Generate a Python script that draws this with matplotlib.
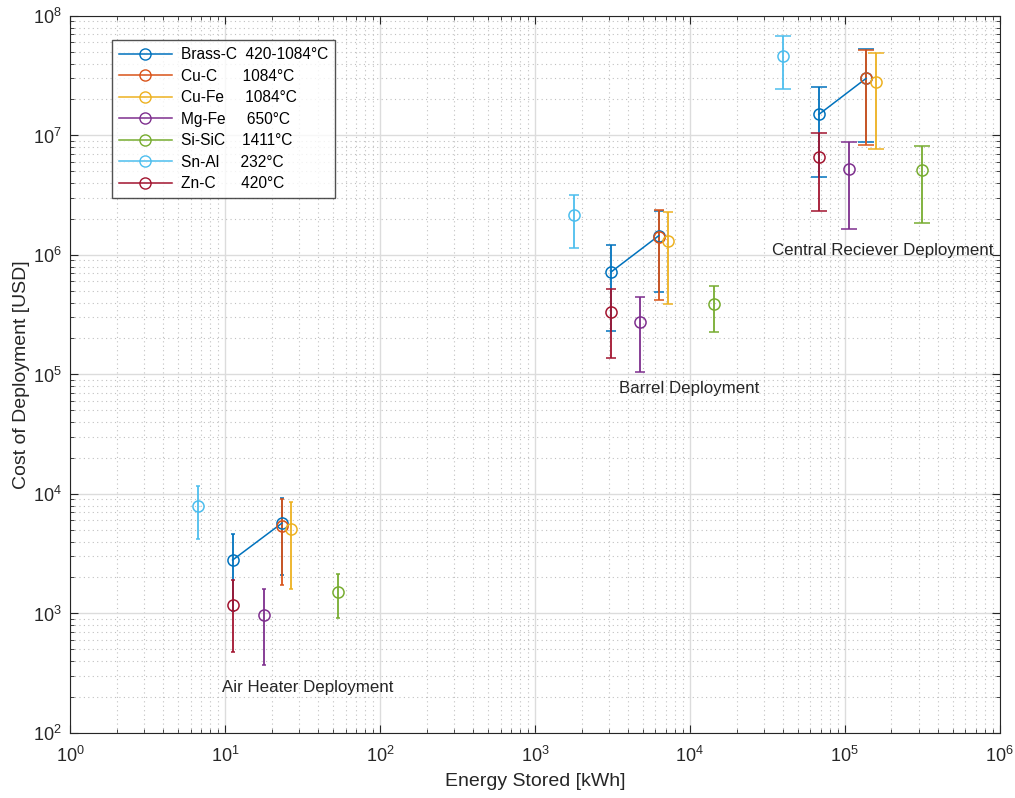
import numpy as np
import matplotlib
matplotlib.use('Agg')
import matplotlib.pyplot as plt
from matplotlib.lines import Line2D

plt.rcParams['font.family'] = ['Liberation Sans', 'DejaVu Sans']
plt.rcParams['mathtext.fontset'] = 'custom'
plt.rcParams['mathtext.rm'] = 'Liberation Sans'

# Series names / legend labels
materials = ['Brass-C', 'Cu-C', 'Cu-Fe', 'Mg-Fe', 'Si-SiC', 'Sn-Al', 'Zn-C']
legend_labels = ['Brass-C  420-1084°C', 'Cu-C      1084°C', 'Cu-Fe     1084°C',
                 'Mg-Fe     650°C', 'Si-SiC    1411°C', 'Sn-Al     232°C',
                 'Zn-C      420°C']
colors = ['#0072BD', '#D95319', '#EDB120', '#7E2F8E', '#77AC30', '#4DBEEE', '#A2142F']

# deployment groups: air heater, barrel, central receiver
groups = ['Air Heater Deployment', 'Barrel Deployment', 'Central Reciever Deployment']
group_text_x = [9.6, 3.5e3, 3.4e4]
group_text_y = [2.4e2, 7.6e4, 1.1e6]

# energy stored [kWh], cost [USD], lower/upper bound [USD]
# Brass-C has two points per group (connected by a line)
brass_grp = [0, 0, 1, 1, 2, 2]
brass_e = [11.2, 23.3, 3.1e3, 6.3e3, 6.8e4, 1.37e5]
brass_c = [2.8e3, 5.7e3, 7.2e5, 1.45e6, 1.5e7, 3.0e7]
brass_lo = [1.05e3, 2.1e3, 2.3e5, 4.9e5, 4.45e6, 8.9e6]
brass_hi = [4.6e3, 9.3e3, 1.2e6, 2.35e6, 2.55e7, 5.3e7]

cuc_e = [23.3, 6.3e3, 1.37e5]
cuc_c = [5.4e3, 1.4e6, 3.0e7]
cuc_lo = [1.73e3, 4.2e5, 8.3e6]
cuc_hi = [9.1e3, 2.4e6, 5.2e7]

cufe_e = [26.5, 7.2e3, 1.6e5]
cufe_c = [5.1e3, 1.32e6, 2.8e7]
cufe_lo = [1.6e3, 3.9e5, 7.7e6]
cufe_hi = [8.5e3, 2.3e6, 4.9e7]

mgfe_e = [17.9, 4.8e3, 1.06e5]
mgfe_c = [9.8e2, 2.75e5, 5.25e6]
mgfe_lo = [3.7e2, 1.05e5, 1.66e6]
mgfe_hi = [1.6e3, 4.45e5, 8.9e6]

sisic_e = [54.0, 1.43e4, 3.15e5]
sisic_c = [1.5e3, 3.9e5, 5.1e6]
sisic_lo = [9.1e2, 2.25e5, 1.85e6]
sisic_hi = [2.15e3, 5.5e5, 8.2e6]

snal_e = [6.7, 1.8e3, 4.0e4]
snal_c = [7.9e3, 2.14e6, 4.65e7]
snal_lo = [4.2e3, 1.14e6, 2.45e7]
snal_hi = [1.17e4, 3.2e6, 6.8e7]

znc_e = [11.2, 3.1e3, 6.8e4]
znc_c = [1.17e3, 3.3e5, 6.6e6]
znc_lo = [4.8e2, 1.38e5, 2.35e6]
znc_hi = [1.9e3, 5.2e5, 1.05e7]

series = [
    (brass_grp, brass_e, brass_c, brass_lo, brass_hi, '-o'),
    ([0, 1, 2], cuc_e, cuc_c, cuc_lo, cuc_hi, 'o'),
    ([0, 1, 2], cufe_e, cufe_c, cufe_lo, cufe_hi, 'o'),
    ([0, 1, 2], mgfe_e, mgfe_c, mgfe_lo, mgfe_hi, 'o'),
    ([0, 1, 2], sisic_e, sisic_c, sisic_lo, sisic_hi, 'o'),
    ([0, 1, 2], snal_e, snal_c, snal_lo, snal_hi, 'o'),
    ([0, 1, 2], znc_e, znc_c, znc_lo, znc_hi, 'o'),
]

capsizes = [1.2, 3.6, 5.5]

fig = plt.figure(figsize=(10.15, 7.98), dpi=100)
ax = fig.add_axes([0.069, 0.0815, 0.916, 0.8985])

for (grp, e, c, lo, hi, fmt), col in zip(series, colors):
    grp = np.array(grp)
    e = np.array(e); c = np.array(c); lo = np.array(lo); hi = np.array(hi)
    for g in range(3):
        m = grp == g
        ax.errorbar(e[m], c[m], yerr=[c[m] - lo[m], hi[m] - c[m]], fmt=fmt,
                    color=col, mfc='none', ms=8, mew=1.1, lw=1.1, elinewidth=1.3,
                    capsize=capsizes[g], capthick=1.3, zorder=3)

for name, tx, ty in zip(groups, group_text_x, group_text_y):
    ax.text(tx, ty, name, ha='left', va='center', fontsize=12.2, color='#262626')

ax.set_xscale('log')
ax.set_yscale('log')
ax.set_xlim(1, 1e6)
ax.set_ylim(1e2, 1e8)
ax.set_xticks([10.0 ** k for k in range(7)])
ax.set_yticks([10.0 ** k for k in range(2, 9)])

ax.grid(True, which='major', color='#dcdcdc', lw=1, ls='-')
ax.grid(True, which='minor', color='#c0c0c0', lw=0.8, ls=(0, (1, 3)))
ax.set_axisbelow(True)
ax.tick_params(which='both', direction='in', top=True, right=True, colors='#262626',
               labelsize=13)
ax.tick_params(axis='x', which='major', pad=9)
ax.tick_params(axis='y', which='major', pad=6)
ax.tick_params(which='major', length=6)
ax.tick_params(which='minor', length=3)
for s in ax.spines.values():
    s.set_color('#262626')

ax.set_xlabel('Energy Stored [kWh]', fontsize=14, color='#262626', labelpad=5)
ax.set_ylabel('Cost of Deployment [USD]', fontsize=14, color='#262626', labelpad=2)

handles = [Line2D([], [], color=col, marker='o', mfc='none', ms=8, lw=1.1) for col in colors]
leg = ax.legend(handles, legend_labels, loc='upper left', bbox_to_anchor=(0.045, 0.9665),
                borderaxespad=0, fontsize=11.2, frameon=True, fancybox=False,
                edgecolor='#262626', handlelength=3.4, handletextpad=0.6,
                borderpad=0.45, labelspacing=0.42)
leg.get_frame().set_linewidth(1)

fig.savefig('out.png', dpi=100)
